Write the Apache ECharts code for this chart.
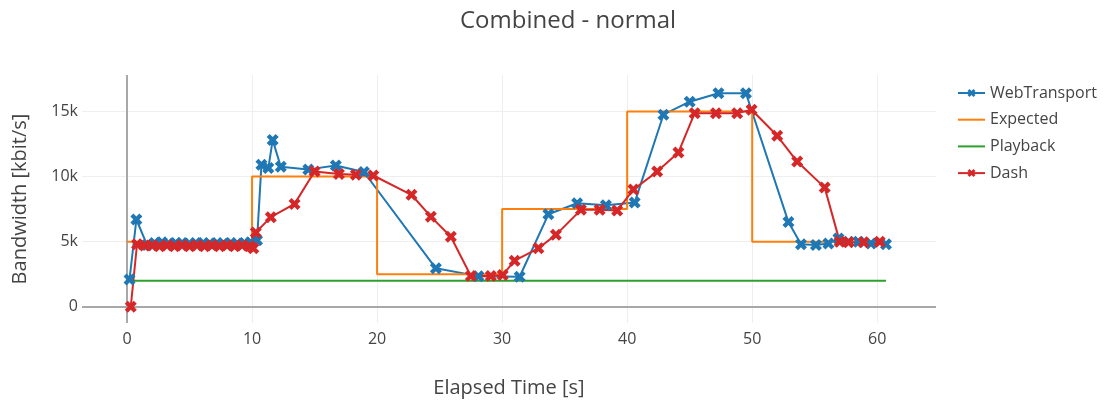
<!DOCTYPE html>
<html>
<head>
<meta charset="utf-8">
<script src="https://cdn.jsdelivr.net/npm/echarts@6/dist/echarts.min.js"></script>
<style>
  html, body { margin: 0; padding: 0; background: #fff; }
  #chart { width: 1109px; height: 403px; }
</style>
</head>
<body>
<div id="chart"></div>
<script>
// Bandwidth over time for the "normal" network profile
const wtTime = [0.2, 0.75, 1.6, 2.2, 2.8, 3.3, 3.9, 4.4, 5.0, 5.5, 6.1, 6.6, 7.2, 7.7, 8.3, 8.8, 9.4, 9.9, 10.4, 10.75,
  11.3, 11.65, 12.3, 14.5, 16.7, 18.95, 24.7, 28.1, 31.4, 33.7, 36.0, 38.3, 40.6, 42.9, 45.0, 47.3, 49.5, 52.9, 53.9, 55.1,
  56.1, 56.9, 57.7, 58.5, 59.5, 60.7];
const wtRate = [2100, 6700, 4750, 4900, 4950, 4850, 4900, 4900, 4850, 4900, 4900, 4850, 4900, 4850, 4900, 4850, 4900, 4950, 5100, 10900,
  10650, 12800, 10750, 10550, 10850, 10350, 2950, 2350, 2300, 7100, 7950, 7800, 8000, 14750, 15750, 16400, 16400, 6500, 4800, 4750,
  4850, 5250, 5000, 5000, 4850, 4800];

const expTime = [0, 10, 20, 30, 40, 50, 60];
const expRate = [5000, 10000, 2500, 7500, 15000, 5000, 5000];

const pbTime = [0.2, 60.7];
const pbRate = [2000, 2000];

const dashTime = [0.3, 0.8, 1.4, 2.0, 2.6, 3.2, 3.8, 4.4, 5.0, 5.6, 6.2, 6.8, 7.4, 8.0, 8.6, 9.2, 9.8, 10.1, 10.3, 11.5,
  13.4, 15.0, 16.95, 18.3, 19.7, 22.75, 24.3, 25.9, 27.5, 29.1, 30.05, 31.0, 32.9, 34.3, 36.3, 37.8, 39.2, 40.5, 42.4, 44.1,
  45.4, 47.1, 48.8, 49.95, 52.0, 53.6, 55.8, 57.0, 57.7, 58.9, 60.2];
const dashRate = [0, 4800, 4700, 4700, 4650, 4700, 4650, 4700, 4650, 4700, 4650, 4700, 4650, 4700, 4650, 4700, 4650, 4500, 5700, 6880,
  7900, 10380, 10200, 10130, 10080, 8600, 6920, 5380, 2360, 2360, 2440, 3540, 4490, 5520, 7440, 7440, 7390, 9000, 10380, 11850,
  14870, 14870, 14870, 15130, 13130, 11150, 9150, 5000, 4950, 4950, 5000];

const xTicks = [0, 10, 20, 30, 40, 50, 60];
const yTicks = [0, 5000, 10000, 15000];

const pairs = (xs, ys) => xs.map((x, i) => [x, ys[i]]);
// chunky "x" marker
const crossMark = 'path://M0,2.5L2.5,0L5,2.5L7.5,0L10,2.5L7.5,5L10,7.5L7.5,10L5,7.5L2.5,10L0,7.5L2.5,5Z';
const font = '"Open Sans", "Liberation Sans", sans-serif';
const ink = '#444';
const gridColor = '#eeeeee';
const zeroColor = '#a8a8a8';

const gridLines = [
  ...xTicks.map(v => ({ xAxis: v, lineStyle: { color: gridColor, width: 1, type: 'solid' } })),
  ...yTicks.filter(v => v !== 0).map(v => ({ yAxis: v, lineStyle: { color: gridColor, width: 1, type: 'solid' } })),
  { xAxis: 0, lineStyle: { color: zeroColor, width: 2, type: 'solid' } },
  { yAxis: 0, lineStyle: { color: zeroColor, width: 2, type: 'solid' } }
];

const chart = echarts.init(document.getElementById('chart'), null, { renderer: 'canvas' });
chart.setOption({
  animation: false,
  backgroundColor: '#fff',
  textStyle: { fontFamily: font, color: ink },
  title: {
    text: 'Combined - normal',
    left: 563, top: 4, textAlign: 'center',
    textStyle: { fontFamily: font, fontSize: 24, fontWeight: 'normal', color: ink }
  },
  legend: {
    orient: 'vertical',
    left: 952, top: 80,
    itemWidth: 27, itemHeight: 10, itemGap: 10.7,
    textStyle: { fontFamily: font, fontSize: 16, color: ink },
    data: [
      { name: 'WebTransport' },
      { name: 'Expected', itemStyle: { opacity: 0 } },
      { name: 'Playback', itemStyle: { opacity: 0 } },
      { name: 'Dash' }
    ]
  },
  grid: { left: 82, right: 173, top: 75, bottom: 80, containLabel: false },
  xAxis: {
    type: 'value', min: -3.6, max: 64.7,
    name: 'Elapsed Time [s]', nameLocation: 'middle', nameGap: 55,
    nameTextStyle: { fontFamily: font, fontSize: 20, color: ink },
    axisLine: { show: false },
    axisTick: { show: false },
    splitLine: { show: false },
    axisLabel: { customValues: xTicks, margin: 8, fontFamily: font, fontSize: 16, color: ink }
  },
  yAxis: {
    type: 'value', min: -1250, max: 17800,
    name: 'Bandwidth [kbit/s]', nameLocation: 'middle', nameGap: 52, nameRotate: 90,
    nameTextStyle: { fontFamily: font, fontSize: 20, color: ink },
    axisLine: { show: false },
    axisTick: { show: false },
    splitLine: { show: false },
    axisLabel: {
      customValues: yTicks, margin: 4, fontFamily: font, fontSize: 16, color: ink,
      formatter: v => (v === 0 ? '0' : (v / 1000) + 'k')
    }
  },
  series: [
    {
      type: 'line', z: 1, data: [], silent: true,
      markLine: { z: 1, silent: true, symbol: ['none', 'none'], label: { show: false }, animation: false, data: gridLines }
    },
    {
      name: 'WebTransport', type: 'line', z: 3,
      data: pairs(wtTime, wtRate),
      color: '#1f77b4',
      symbol: crossMark, symbolSize: 12, showAllSymbol: true,
      lineStyle: { width: 2, color: '#1f77b4' },
      itemStyle: { color: '#1f77b4' }
    },
    {
      name: 'Expected', type: 'line', z: 3,
      data: pairs(expTime, expRate),
      step: 'end', symbol: 'none',
      color: '#ff7f0e',
      lineStyle: { width: 2, color: '#ff7f0e' }
    },
    {
      name: 'Playback', type: 'line', z: 3,
      data: pairs(pbTime, pbRate),
      symbol: 'none',
      color: '#2ca02c',
      lineStyle: { width: 2, color: '#2ca02c' }
    },
    {
      name: 'Dash', type: 'line', z: 3,
      data: pairs(dashTime, dashRate),
      color: '#d62728',
      symbol: crossMark, symbolSize: 12, showAllSymbol: true,
      lineStyle: { width: 2, color: '#d62728' },
      itemStyle: { color: '#d62728' }
    }
  ]
});
</script>
</body>
</html>
